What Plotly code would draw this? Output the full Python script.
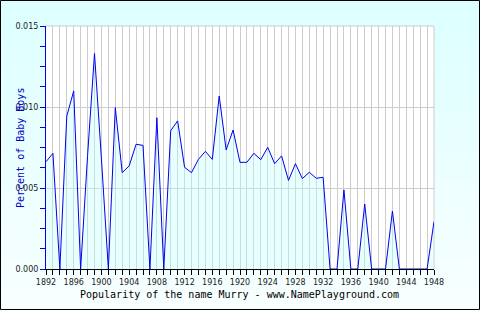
import plotly.graph_objects as go

years = list(range(1892, 1949))
percent = [
    0.00662, 0.00714, 0.0, 0.00944, 0.01099, 0.0, 0.00700, 0.01331, 0.00680, 0.0,   # 1892-1901
    0.00996, 0.00595, 0.00636, 0.00770, 0.00763, 0.0, 0.00934, 0.0, 0.00854, 0.00914,  # 1902-1911
    0.00628, 0.00595, 0.00677, 0.00726, 0.00677, 0.01068, 0.00735, 0.00858, 0.00658, 0.00659,  # 1912-1921
    0.00714, 0.00675, 0.00751, 0.00650, 0.00698, 0.00547, 0.00650, 0.00558, 0.00597, 0.00560,  # 1922-1931
    0.00566, 0.0, 0.0, 0.00488, 0.0, 0.0, 0.00401, 0.0, 0.0, 0.0,  # 1932-1941
    0.00358, 0.0, 0.0, 0.0, 0.0, 0.0, 0.00292,  # 1942-1948
]
x_tick_labels = [str(y) for y in range(1892, 1949, 4)]
y_tick_vals = [0.0, 0.005, 0.010, 0.015]
y_tick_text = ["0.000", "0.005", "0.010", "0.015"]
title_x = "Popularity of the name Murry - www.NamePlayground.com"
title_y = "Percent of Baby Boys"

W, H = 480, 310
L, R, T, B = 46, 46, 26, 41
PW, PH = W - L - R, H - T - B


def px_x(p):
    return (p - L) / PW


def px_y(p):
    return (H - B - p) / PH


fig = go.Figure()
fig.add_trace(go.Scatter(
    x=years, y=percent, mode="lines",
    line=dict(color="#0000EE", width=1),
    fill="tozeroy", fillcolor="rgba(190,255,255,0.35)",
    hoverinfo="skip", showlegend=False,
))

shapes = []
# vertical gradient background over the whole figure
n = 31
for i in range(n):
    f = i / (n - 1)
    r = int(round(220 + (248 - 220) * f))
    y0 = i * H / n
    y1 = (i + 1) * H / n + 0.6
    shapes.append(dict(type="rect", xref="paper", yref="paper",
                       x0=px_x(0), x1=px_x(W), y0=px_y(y1), y1=px_y(y0),
                       fillcolor=f"rgb({r},255,255)", line=dict(width=0), layer="below"))
# white plot area
shapes.append(dict(type="rect", xref="paper", yref="paper", x0=0, x1=1, y0=0, y1=1,
                   fillcolor="white", line=dict(width=0), layer="below"))
# top and right gray border of plot area
shapes.append(dict(type="line", xref="paper", yref="paper", x0=0, x1=1, y0=1, y1=1,
                   line=dict(color="#CCCCCC", width=1), layer="below"))
shapes.append(dict(type="line", xref="paper", yref="paper", x0=1, x1=1, y0=0, y1=1,
                   line=dict(color="#CCCCCC", width=1), layer="below"))
# outer black border
shapes.append(dict(type="rect", xref="paper", yref="paper",
                   x0=px_x(0.5), x1=px_x(W - 0.5), y0=px_y(H - 0.5), y1=px_y(0.5),
                   fillcolor="rgba(0,0,0,0)", line=dict(color="black", width=1), layer="above"))

fig.update_layout(
    width=W, height=H,
    margin=dict(l=L, r=R, t=T, b=B, pad=0),
    paper_bgcolor="#EAFFFF", plot_bgcolor="white",
    shapes=shapes,
    showlegend=False,
    xaxis=dict(
        range=[1892, 1948], tickmode="array",
        tickvals=list(range(1892, 1949, 4)), ticktext=x_tick_labels,
        showgrid=True, gridcolor="#CCCCCC", gridwidth=1,
        ticks="outside", ticklen=5, tickcolor="black", tickwidth=1,
        minor=dict(dtick=1, tick0=1892, showgrid=True, gridcolor="#CCCCCC", gridwidth=1,
                   ticks="outside", ticklen=5, tickcolor="black", tickwidth=1),
        showline=True, linecolor="black", linewidth=1,
        zeroline=False,
        tickfont=dict(family="DejaVu Sans", size=8, color="#222222"),
        fixedrange=True,
    ),
    yaxis=dict(
        range=[0, 0.015], tickmode="array", tickvals=y_tick_vals, ticktext=y_tick_text,
        showgrid=True, gridcolor="#CCCCCC", gridwidth=1,
        ticks="outside", ticklen=5, tickcolor="#0000EE", tickwidth=1,
        minor=dict(dtick=0.00125, tick0=0, showgrid=False,
                   ticks="outside", ticklen=5, tickcolor="#0000EE", tickwidth=1),
        showline=True, linecolor="#0000EE", linewidth=1,
        zeroline=False,
        tickfont=dict(family="DejaVu Sans", size=8, color="#222222"),
        fixedrange=True,
    ),
    annotations=[
        dict(text=title_x, xref="paper", yref="paper", x=px_x(239), y=px_y(294),
             xanchor="center", yanchor="middle", showarrow=False,
             font=dict(family="DejaVu Sans Mono", size=10, color="black")),
        dict(text=title_y, xref="paper", yref="paper", x=px_x(20), y=px_y(148),
             xanchor="center", yanchor="middle", showarrow=False, textangle=-90,
             font=dict(family="DejaVu Sans Mono", size=10, color="#0000CC")),
    ],
)

fig.write_html("out.html")
